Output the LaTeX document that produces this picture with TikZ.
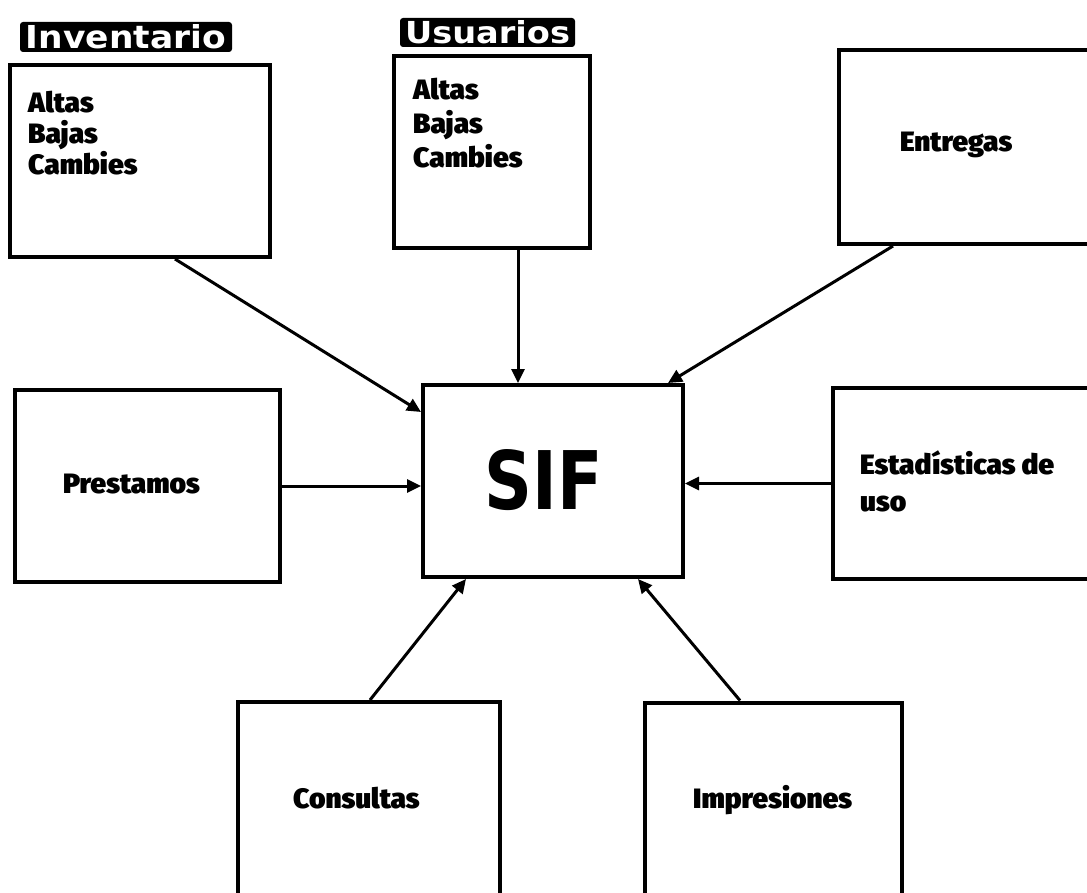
\documentclass[tikz,border=0pt]{standalone}
\usepackage{fontspec}
\usetikzlibrary{arrows.meta}
\newfontfamily\labelfont{Fira Sans Condensed Black}[FakeStretch=1.1]
\newfontfamily\headfont{DejaVu Sans}

\tikzset{
  panel/.style={draw, line width=4pt, inner sep=0pt},
  lbl/.style={inner sep=0pt, font=\labelfont\fontsize{28}{31}\selectfont, align=left},
  heading/.style={fill=black, text=white, rounded corners=3pt, inner sep=0pt,
                  font=\headfont\bfseries\fontsize{24}{24}\selectfont},
  flow/.style={line width=3pt, -{Triangle[length=14pt,width=13pt]}},
}

\begin{document}
\begin{tikzpicture}[x=1pt,y=-1pt]
  \useasboundingbox (0,0) rectangle (1087,893);
  \fill[white] (0,0) rectangle (1087,893);

  % central system box
  \node[panel, minimum width=260pt, minimum height=192pt] (sif) at (553,481) {};
  \node[inner sep=0pt] (sifT) at (544,480)
    {\resizebox{118pt}{60pt}{\headfont\bfseries SIF}};

  % surrounding modules
  \node[panel, minimum width=260pt, minimum height=192pt] (inv) at (140,161) {};
  \node[panel, minimum width=196pt, minimum height=192pt] (usu) at (492,152) {};
  \node[panel, minimum width=271pt, minimum height=194pt] (ent) at (974.5,147) {};
  \node[panel, minimum width=265pt, minimum height=192pt] (pre) at (147.5,486) {};
  \node[panel, minimum width=277pt, minimum height=191pt] (est) at (971.5,483.5) {};
  \node[panel, minimum width=262pt, minimum height=208pt] (con) at (369,806) {};
  \node[panel, minimum width=257pt, minimum height=208pt] (imp) at (773.5,806.5) {};

  % headings above the two maintenance boxes
  \node[heading, minimum width=212pt, minimum height=30pt] (invT) at (126,37)
    {\resizebox{200pt}{24pt}{Inventario}};
  \node[heading, minimum width=175pt, minimum height=29pt] (usuT) at (487.5,32.5)
    {\resizebox{165pt}{23pt}{Usuarios}};

  % box contents
  \node[lbl, anchor=north west] (invL) at (28,91) {Altas\\Bajas\\Cambies};
  \node[lbl, anchor=north west, font=\labelfont\fontsize{28}{34}\selectfont]
    (usuL) at (413,78) {Altas\\Bajas\\Cambies};
  \node[lbl, anchor=base west] (entL) at (900,152) {Entregas};
  \node[lbl, anchor=base west] (preL) at (63,493) {Prestamos};
  \node[lbl, anchor=north west, font=\labelfont\fontsize{28}{37}\selectfont]
    (estL) at (860,450) {Estadísticas de\\uso};
  \node[lbl, anchor=base west] (conL) at (293,808) {Consultas};
  \node[lbl, anchor=base west] (impL) at (693,808) {Impresiones};

  % connectors into the system
  \draw[flow] ([xshift=35pt]inv.south) -- ([yshift=69pt]sif.west);
  \draw[flow] ([xshift=26pt]usu.south) -- ([xshift=-35pt]sif.north);
  \draw[flow] ([xshift=-81.5pt]ent.south) -- ([xshift=115pt]sif.north);
  \draw[flow] (pre.east) -- (pre.east -| sif.west);
  \draw[flow] (est.west) -- (est.west -| sif.east);
  \draw[flow] ([xshift=1pt]con.north) -- ([xshift=-87pt]sif.south);
  \draw[flow] ([xshift=-33.5pt]imp.north) -- ([xshift=85pt]sif.south);
\end{tikzpicture}
\end{document}
